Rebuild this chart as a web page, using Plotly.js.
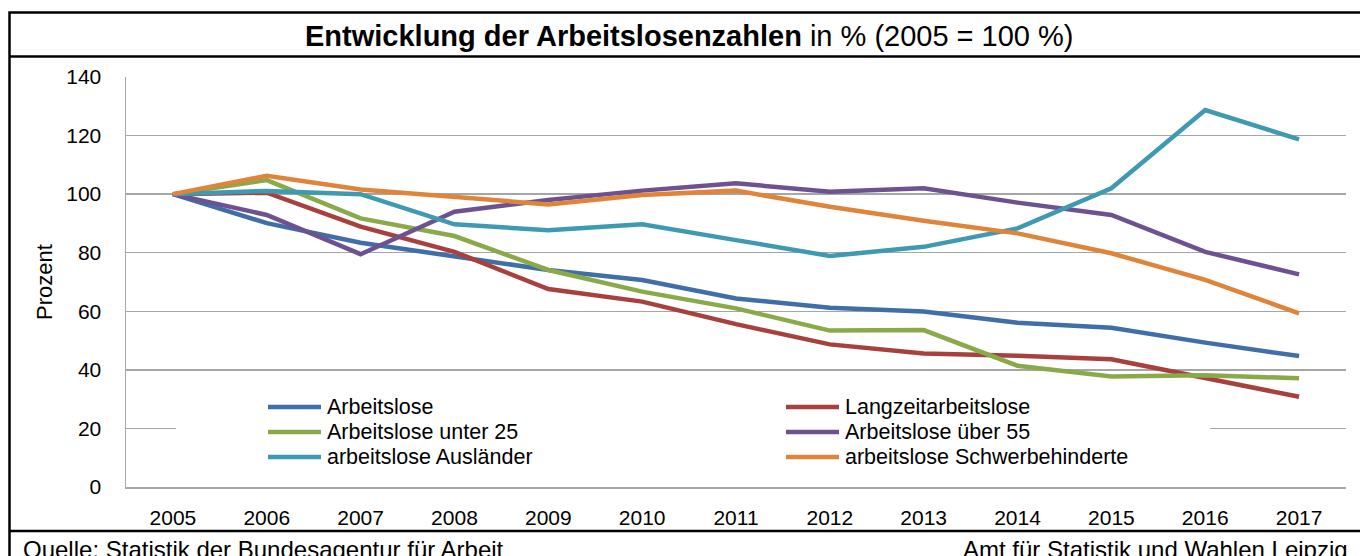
<!DOCTYPE html>
<html>
<head>
<meta charset="utf-8">
<script src="https://cdn.plot.ly/plotly-3.0.1.min.js"></script>
<style>
  html, body { margin: 0; padding: 0; background: #ffffff; }
  #chart { width: 1360px; height: 556px; }
</style>
</head>
<body>
<div id="chart"></div>
<script>
// ---- data (2005 = 100 %) ----
var years = ["2005","2006","2007","2008","2009","2010","2011","2012","2013","2014","2015","2016","2017"];

var seriesNames = ["Arbeitslose", "Langzeitarbeitslose", "Arbeitslose unter 25",
                   "Arbeitslose über 55", "arbeitslose Ausländer", "arbeitslose Schwerbehinderte"];

var arbeitslose        = [100, 90.1, 83.4, 78.9, 74.1, 70.7, 64.4, 61.2, 59.9, 56.1, 54.4, 49.3, 44.7];
var langzeit           = [100, 100.5, 88.9, 80.3, 67.6, 63.3, 55.6, 48.7, 45.6, 44.8, 43.6, 37.2, 30.8];
var unter25            = [100, 104.8, 91.7, 85.7, 74.1, 66.7, 61.0, 53.4, 53.6, 41.4, 37.7, 38.2, 37.1];
var ueber55            = [100, 92.9, 79.5, 94.0, 98.0, 101.2, 103.7, 100.8, 102.0, 97.1, 92.9, 80.3, 72.6];
var auslaender         = [100, 101.1, 100.0, 89.7, 87.7, 89.7, 84.3, 78.9, 82.0, 88.3, 102.0, 128.7, 118.7];
var schwerbehinderte   = [100, 106.3, 101.6, 99.1, 96.5, 99.7, 101.2, 95.7, 90.9, 86.6, 79.8, 70.7, 59.3];

var yTicks = [0, 20, 40, 60, 80, 100, 120, 140];

var titleBold = "Entwicklung der Arbeitslosenzahlen";
var titleRest = " in % (2005 = 100 %)";
var yTitle = "Prozent";
var sourceText = "Quelle: Statistik der Bundesagentur für Arbeit";
var authorText = "Amt für Statistik und Wahlen Leipzig";

// ---- styling ----
var colors = ["#3F6EA8", "#A8403E", "#8AAA4A", "#6E5190", "#3E9AB3", "#E0843A"];
var values = [arbeitslose, langzeit, unter25, ueber55, auslaender, schwerbehinderte];
var FONT = "Liberation Sans, Arial, Helvetica, sans-serif";

var traces = values.map(function (v, i) {
  return {
    type: "scatter",
    mode: "lines",
    x: years,
    y: v,
    name: seriesNames[i],
    line: { color: colors[i], width: 4.5, shape: "linear" },
    hoverinfo: "x+y+name"
  };
});

// plot area in pixels: x 126..1346, y 77..487
var L = 126, R = 1346, T = 77, B = 487, W = 1360, H = 556;
function px(x) { return (x - L) / (R - L); }
function py(y) { return (B - y) / (B - T); }

var shapes = [
  // outer frame
  { type: "rect", xref: "paper", yref: "paper",
    x0: px(9.5), x1: px(1364), y0: py(600), y1: py(12.5),
    line: { color: "#000000", width: 2.5 }, fillcolor: "rgba(0,0,0,0)", layer: "above" },
  // title divider
  { type: "line", xref: "paper", yref: "paper",
    x0: px(9.5), x1: px(1364), y0: py(56.5), y1: py(56.5),
    line: { color: "#000000", width: 2.5 }, layer: "above" },
  // footer divider
  { type: "line", xref: "paper", yref: "paper",
    x0: px(9.5), x1: px(1364), y0: py(531), y1: py(531),
    line: { color: "#000000", width: 2.5 }, layer: "above" },
  // legend background
  { type: "rect", xref: "paper", yref: "paper",
    x0: px(176), x1: px(1210), y0: py(478), y1: py(388),
    line: { width: 0 }, fillcolor: "#ffffff", layer: "above" }
];

var annotations = [
  { xref: "paper", yref: "paper", x: px(689), y: py(36),
    xanchor: "center", yanchor: "middle", showarrow: false,
    text: "<b>" + titleBold + "</b>" + titleRest,
    font: { family: FONT, size: 29, color: "#000000" } },
  { xref: "paper", yref: "paper", x: px(44), y: py(282),
    xanchor: "center", yanchor: "middle", showarrow: false, textangle: -90,
    text: yTitle,
    font: { family: FONT, size: 22, color: "#000000" } },
  { xref: "paper", yref: "paper", x: px(21), y: py(549),
    xanchor: "left", yanchor: "middle", showarrow: false,
    text: sourceText,
    font: { family: FONT, size: 24, color: "#000000" } },
  { xref: "paper", yref: "paper", x: px(1350), y: py(549),
    xanchor: "right", yanchor: "middle", showarrow: false,
    text: authorText,
    font: { family: FONT, size: 24, color: "#000000" } }
];

// legend (two columns, row-wise order), drawn as shapes + text
var legCols = [268, 786];
var legRows = [407, 432, 457];
seriesNames.forEach(function (name, i) {
  var col = i % 2, row = Math.floor(i / 2);
  var x0 = legCols[col], y = legRows[row];
  shapes.push({ type: "line", xref: "paper", yref: "paper",
    x0: px(x0), x1: px(x0 + 53), y0: py(y), y1: py(y),
    line: { color: colors[i], width: 4.5 }, layer: "above" });
  annotations.push({ xref: "paper", yref: "paper", x: px(x0 + 57), y: py(y),
    xanchor: "left", yanchor: "middle", showarrow: false,
    text: name, font: { family: FONT, size: 21.5, color: "#000000" } });
});

var layout = {
  width: W,
  height: H,
  margin: { l: L, r: W - R, t: T, b: H - B, pad: 0 },
  paper_bgcolor: "#ffffff",
  plot_bgcolor: "#ffffff",
  font: { family: FONT, size: 21, color: "#000000" },
  showlegend: false,
  xaxis: {
    type: "category",
    range: [-0.5, 12.5],
    showgrid: false,
    showline: true,
    linecolor: "#A6A6A6",
    linewidth: 1.5,
    ticks: "",
    ticklabelstandoff: 11,
    tickfont: { family: FONT, size: 21, color: "#000000" },
    zeroline: false,
    fixedrange: true
  },
  yaxis: {
    range: [0, 140],
    tickvals: yTicks,
    ticktext: yTicks.map(String),
    showgrid: true,
    gridcolor: "#A6A6A6",
    gridwidth: 1.5,
    showline: true,
    linecolor: "#A6A6A6",
    linewidth: 1.5,
    ticks: "",
    ticklabelstandoff: 19,
    tickfont: { family: FONT, size: 21, color: "#000000" },
    zeroline: false,
    fixedrange: true
  },
  shapes: shapes,
  annotations: annotations
};

Plotly.newPlot("chart", traces, layout, { displayModeBar: false, staticPlot: true });
</script>
</body>
</html>
